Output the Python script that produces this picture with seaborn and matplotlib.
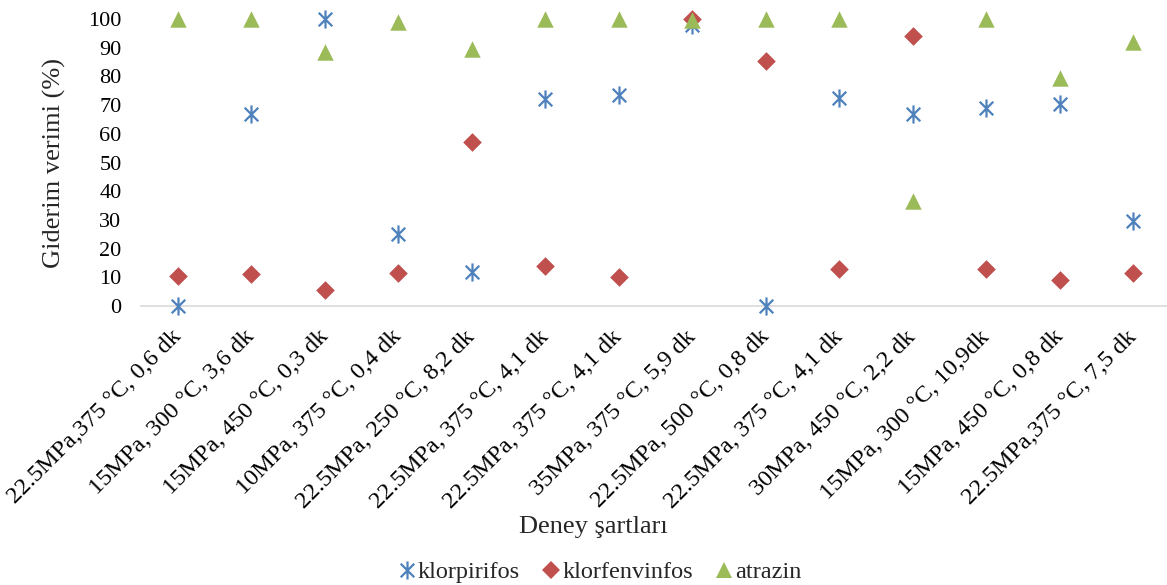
import numpy as np
import pandas as pd
import matplotlib
matplotlib.use("Agg")
import matplotlib.pyplot as plt
from matplotlib.path import Path
from matplotlib.lines import Line2D
import seaborn as sns

# Experimental conditions (x categories)
conditions = [
    "22.5MPa,375 °C, 0,6 dk",
    "15MPa, 300 °C, 3,6 dk",
    "15MPa, 450 °C, 0,3 dk",
    "10MPa, 375 °C, 0,4 dk",
    "22.5MPa, 250 °C, 8,2 dk",
    "22.5MPa, 375 °C, 4,1 dk",
    "22.5MPa, 375 °C, 4,1 dk",
    "35MPa, 375 °C, 5,9 dk",
    "22.5MPa, 500 °C, 0,8 dk",
    "22.5MPa, 375 °C, 4,1 dk",
    "30MPa, 450 °C, 2,2 dk",
    "15MPa, 300 °C, 10,9dk",
    "15MPa, 450 °C, 0,8 dk",
    "22.5MPa,375 °C, 7,5 dk",
]

# Removal efficiency (%) per compound
klorpirifos = [0, 67, 100, 25, 12, 72, 73.5, 98, 0, 72.5, 67, 69, 70.5, 29.5]
klorfenvinfos = [10.5, 11, 5.5, 11.5, 57, 14, 10, 100, 85.5, 13, 94, 13, 9, 11.5]
atrazin = [100, 100, 88.5, 99, 89.5, 100, 100, 99.5, 100, 100, 36.5, 100, 79.5, 92]

series_names = ["klorpirifos", "klorfenvinfos", "atrazin"]
series_colors = ["#4F81BD", "#C0504D", "#9BBB59"]

# Asterisk marker: an X crossed by a vertical stroke
ast_verts = [(-0.75, -0.75), (0.75, 0.75), (-0.75, 0.75), (0.75, -0.75), (0, -1), (0, 1)]
ast_codes = [Path.MOVETO, Path.LINETO] * 3
asterisk = Path(ast_verts, ast_codes)

sns.set_style("white")
plt.rcParams["font.family"] = ["Liberation Serif", "DejaVu Serif"]

fig = plt.figure(figsize=(11.67, 5.85), dpi=100)
ax = fig.add_axes([141 / 1167, (585 - 306) / 585, 1029 / 1167, 287 / 585])

x_idx = np.arange(len(conditions))
df = pd.DataFrame({
    "idx": np.tile(x_idx, 3),
    "deger": klorpirifos + klorfenvinfos + atrazin,
    "seri": np.repeat(series_names, len(conditions)),
})

styles = {
    "klorpirifos": dict(marker=asterisk, s=170, linewidth=1.6),
    "klorfenvinfos": dict(marker="D", s=90, linewidth=0),
    "atrazin": dict(marker="^", s=140, linewidth=0),
}

for name, color in zip(series_names, series_colors):
    sub = df[df["seri"] == name]
    sns.scatterplot(data=sub, x="idx", y="deger", ax=ax, color=color,
                    edgecolor=color, clip_on=False, legend=False, zorder=3,
                    **styles[name])

ax.set_xlim(-0.5, len(conditions) - 0.5)
ax.set_ylim(0, 100)
ax.set_yticks(np.arange(0, 101, 10))
ax.set_xticks(x_idx)
ax.set_xticklabels(conditions, rotation=45, ha="right", va="center",
                   rotation_mode="anchor")
ax.tick_params(axis="both", length=0, colors="black")
ax.tick_params(axis="y", pad=14, labelsize=16)
ax.tick_params(axis="x", pad=20, labelsize=17.5)

for side in ["left", "right", "top"]:
    ax.spines[side].set_visible(False)
ax.spines["bottom"].set_color("#D9D9D9")
ax.spines["bottom"].set_linewidth(1.2)
ax.grid(False)

ax.set_ylabel("Giderim verimi (%)", fontsize=19)
ax.yaxis.set_label_coords(-0.073, 0.5)
ax.set_xlabel("Deney şartları", fontsize=19)
ax.xaxis.set_label_coords(0.44, -0.733)

handles = [
    Line2D([], [], linestyle="none", marker=asterisk, markersize=13,
           markeredgewidth=1.6, color=series_colors[0]),
    Line2D([], [], linestyle="none", marker="D", markersize=9,
           markeredgewidth=0, color=series_colors[1]),
    Line2D([], [], linestyle="none", marker="^", markersize=12,
           markeredgewidth=0, color=series_colors[2]),
]
fig.legend(handles, series_names, loc="center", bbox_to_anchor=(0.514, 0.022),
           ncol=3, frameon=False, fontsize=17.5, handlelength=0.7,
           handletextpad=0.1, columnspacing=0.95)

fig.savefig("out.png", dpi=100, facecolor="white")
